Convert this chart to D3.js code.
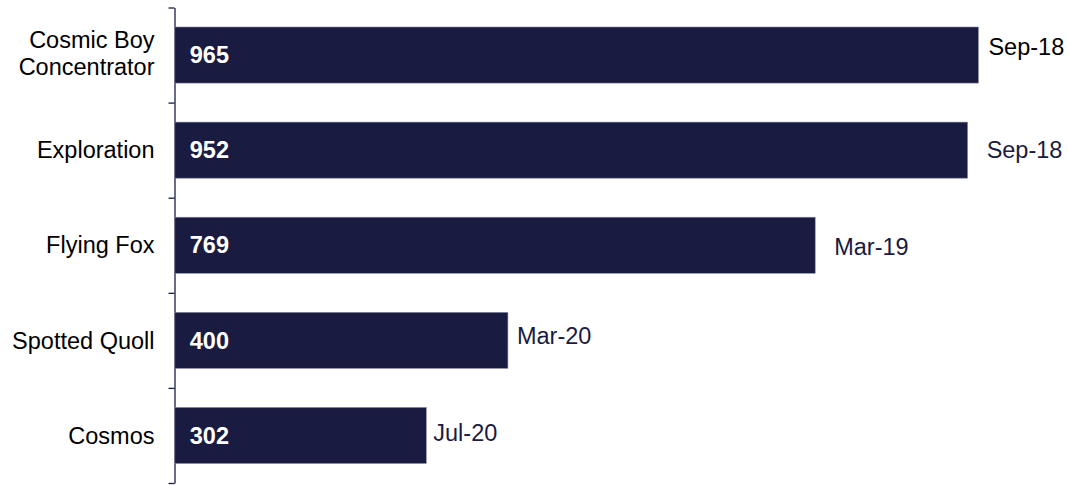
<!DOCTYPE html>
<html>
<head>
<meta charset="utf-8">
<script src="https://cdn.jsdelivr.net/npm/d3@7"></script>
<style>
  html, body { margin: 0; padding: 0; background: #ffffff; }
  svg { display: block; }
  text { font-family: "Liberation Sans", Arial, sans-serif; }
</style>
</head>
<body>
<svg id="chart" width="1068" height="485"></svg>
<script>
// ---- data ----
const categories = ["Cosmic Boy Concentrator", "Exploration", "Flying Fox", "Spotted Quoll", "Cosmos"];
const categoryLines = [["Cosmic Boy", "Concentrator"], ["Exploration"], ["Flying Fox"], ["Spotted Quoll"], ["Cosmos"]];
const values = [965, 952, 769, 400, 302];
const dateLabels = ["Sep-18", "Sep-18", "Mar-19", "Mar-20", "Jul-20"];

// ---- layout ----
const axisX = 174.5, plotTop = 7.5, plotBottom = 483;
const barColor = "#1a1b41";
const fontSize = 23.5;
// per-label manual nudges (dx from bar end, dy from bar centre) as in the original
const labelDx = [10, 19, 19, 9, 7];
const labelDy = [-8, 0, 2, -5, -3];
const labelColors = ["#000000", "#1a1b41", "#1a1b41", "#1a1b41", "#1a1b41"];

const svg = d3.select("#chart");

const x = d3.scaleLinear().domain([0, 1000]).range([axisX + 0.3, axisX + 0.3 + 832.8]);
const y = d3.scaleBand().domain(categories).range([plotTop, plotBottom]).paddingInner(0.41).paddingOuter(0.205);

// axis with ticks at band boundaries
const yb = d3.scaleLinear().domain([0, categories.length]).range([plotTop, plotBottom]);
const axis = svg.append("g")
  .attr("transform", `translate(${axisX},0)`)
  .call(d3.axisLeft(yb).tickValues(d3.range(0, categories.length + 1)).tickFormat("").tickSize(6).tickSizeOuter(0));
axis.select(".domain").attr("stroke", barColor).attr("stroke-width", 1.3);
axis.selectAll(".tick line").attr("stroke", barColor).attr("stroke-width", 1.3);

// bars
svg.append("g").selectAll("rect")
  .data(categories)
  .join("rect")
  .attr("x", x(0))
  .attr("y", d => y(d))
  .attr("width", (d, i) => x(values[i]) - x(0))
  .attr("height", y.bandwidth())
  .attr("fill", barColor)
  .attr("stroke", "#8d8fa8")
  .attr("stroke-width", 0.6);

// value labels inside bars
svg.append("g").selectAll("text")
  .data(categories)
  .join("text")
  .attr("x", x(0) + 15)
  .attr("y", d => y(d) + y.bandwidth() / 2)
  .attr("dy", "0.35em")
  .attr("fill", "#ffffff")
  .attr("font-weight", "bold")
  .attr("font-size", fontSize)
  .text((d, i) => values[i]);

// date labels right of bars
svg.append("g").selectAll("text")
  .data(categories)
  .join("text")
  .attr("x", (d, i) => x(values[i]) + labelDx[i])
  .attr("y", d => y(d) + y.bandwidth() / 2)
  .attr("dy", (d, i) => labelDy[i] + fontSize * 0.35)
  .attr("fill", (d, i) => labelColors[i])
  .attr("font-size", fontSize)
  .text((d, i) => dateLabels[i]);

// category labels
const cat = svg.append("g").selectAll("text")
  .data(categories)
  .join("text")
  .attr("x", axisX - 20)
  .attr("y", d => y(d) + y.bandwidth() / 2)
  .attr("text-anchor", "end")
  .attr("fill", "#000000")
  .attr("font-size", fontSize);
const lineH = 26.6;
cat.each(function(d, i) {
  const lines = categoryLines[i];
  const t = d3.select(this);
  lines.forEach((ln, j) => {
    t.append("tspan")
      .attr("x", axisX - 20)
      .attr("dy", j === 0 ? (fontSize * 0.35 - (lines.length - 1) * lineH / 2 - (lines.length > 1 ? 1.5 : 0)) : lineH)
      .text(ln);
  });
});
</script>
</body>
</html>
